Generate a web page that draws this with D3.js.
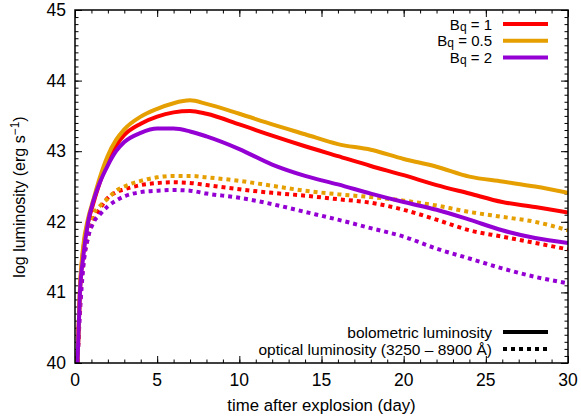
<!DOCTYPE html>
<html>
<head>
<meta charset="utf-8">
<script src="https://cdn.jsdelivr.net/npm/d3@7"></script>
<style>
  body { margin: 0; background: #fff; }
  text { font-family: "Liberation Sans", Arial, Helvetica, sans-serif; fill: #000; }
</style>
</head>
<body>
<div id="chart"></div>
<script>
// time after explosion (day)
const times = [0.15, 0.3, 0.5, 0.8, 1.1, 1.5, 2, 2.5, 3, 4, 5, 6, 7, 8, 10, 12, 14, 16, 18, 20, 22, 24, 26, 28, 30];

// bolometric luminosity (log)
const bolBq1   = [40, 41.02, 41.6, 42.0, 42.25, 42.55, 42.87, 43.08, 43.23, 43.39, 43.49, 43.55, 43.57, 43.53, 43.38, 43.22, 43.07, 42.93, 42.79, 42.66, 42.52, 42.40, 42.28, 42.21, 42.13];
const bolBq05  = [40, 41.05, 41.65, 42.05, 42.3, 42.62, 42.94, 43.16, 43.31, 43.49, 43.60, 43.68, 43.72, 43.67, 43.53, 43.38, 43.24, 43.10, 43.02, 42.89, 42.78, 42.64, 42.57, 42.50, 42.41];
const bolBq2   = [40, 40.99, 41.5, 42.0, 42.28, 42.55, 42.8, 43.0, 43.13, 43.26, 43.32, 43.32, 43.28, 43.21, 43.03, 42.81, 42.65, 42.53, 42.40, 42.28, 42.17, 42.03, 41.88, 41.77, 41.70];

// optical luminosity 3250 - 8900 A (log)
const optBq1   = [40, 40.85, 41.4, 41.8, 42.02, 42.18, 42.34, 42.42, 42.46, 42.52, 42.55, 42.56, 42.55, 42.52, 42.46, 42.41, 42.37, 42.32, 42.27, 42.17, 42.03, 41.88, 41.79, 41.70, 41.61];
const optBq05  = [40, 40.9, 41.45, 41.85, 42.1, 42.22, 42.33, 42.44, 42.5, 42.58, 42.63, 42.65, 42.65, 42.63, 42.58, 42.51, 42.44, 42.39, 42.35, 42.30, 42.23, 42.14, 42.07, 42.0, 41.88];
const optBq2   = [40, 40.7, 41.35, 41.78, 41.98, 42.1, 42.22, 42.3, 42.36, 42.42, 42.44, 42.45, 42.44, 42.40, 42.34, 42.25, 42.14, 42.03, 41.91, 41.79, 41.62, 41.48, 41.34, 41.22, 41.13];

const xTicks = [0, 5, 10, 15, 20, 25, 30];
const yTicks = [40, 41, 42, 43, 44, 45];

const series = [
  { sub: '1',   color: '#ff0000', bol: bolBq1,  opt: optBq1 },
  { sub: '0.5', color: '#e69f00', bol: bolBq05, opt: optBq05 },
  { sub: '2',   color: '#9400d3', bol: bolBq2,  opt: optBq2 }
];

const W = 581, H = 420;
const margin = { top: 10, right: 13, bottom: 57, left: 75 };
const width = W - margin.left - margin.right;
const height = H - margin.top - margin.bottom;

const x = d3.scaleLinear().domain([0, 30]).range([0, width]);
const y = d3.scaleLinear().domain([40, 45]).range([height, 0]);

const svg = d3.select('#chart').append('svg')
  .attr('width', W)
  .attr('height', H);

const g = svg.append('g')
  .attr('transform', `translate(${margin.left},${margin.top})`);

g.append('clipPath').attr('id', 'plot-clip')
  .append('rect').attr('width', width).attr('height', height);

// minor + major ticks, inward on all four sides
const xMinor = d3.range(0, 31, 1);
const yMinor = d3.range(40, 45.001, 0.1);

function tickAxis(axisFn, scale, values, size) {
  return axisFn(scale).tickValues(values).tickSize(size).tickSizeOuter(0).tickFormat('');
}

g.append('g').attr('transform', `translate(0,${height})`)
  .call(tickAxis(d3.axisBottom, x, xMinor, -3.5));
g.append('g').call(tickAxis(d3.axisTop, x, xMinor, -3.5));
g.append('g').call(tickAxis(d3.axisLeft, y, yMinor, -3.5));
g.append('g').attr('transform', `translate(${width},0)`)
  .call(tickAxis(d3.axisRight, y, yMinor, -3.5));

g.append('g').attr('transform', `translate(0,${height})`)
  .call(tickAxis(d3.axisBottom, x, xTicks, -7));
g.append('g').call(tickAxis(d3.axisTop, x, xTicks, -7));
g.append('g').call(tickAxis(d3.axisLeft, y, yTicks, -7));
g.append('g').attr('transform', `translate(${width},0)`)
  .call(tickAxis(d3.axisRight, y, yTicks, -7));

g.selectAll('.domain').remove();
g.selectAll('.tick line').attr('stroke', '#000').attr('stroke-width', 1);

// tick labels
g.selectAll('.xlab').data(xTicks).enter().append('text')
  .attr('x', d => x(d))
  .attr('y', height + 23)
  .attr('text-anchor', 'middle')
  .style('font-size', '17.5px')
  .text(d => d);

g.selectAll('.ylab').data(yTicks).enter().append('text')
  .attr('x', -9)
  .attr('y', d => y(d) + 6)
  .attr('text-anchor', 'end')
  .style('font-size', '17.5px')
  .text(d => d);

// curves
const line = d3.line()
  .x((d, i) => x(times[i]))
  .y(d => y(d))
  .curve(d3.curveMonotoneX);

const plot = g.append('g').attr('clip-path', 'url(#plot-clip)');

series.forEach(s => {
  plot.append('path')
    .attr('d', line(s.opt))
    .attr('fill', 'none')
    .attr('stroke', s.color)
    .attr('stroke-width', 4)
    .attr('stroke-dasharray', '4,4');
});
series.forEach(s => {
  plot.append('path')
    .attr('d', line(s.bol))
    .attr('fill', 'none')
    .attr('stroke', s.color)
    .attr('stroke-width', 4);
});

// frame
g.append('rect')
  .attr('width', width)
  .attr('height', height)
  .attr('fill', 'none')
  .attr('stroke', '#000')
  .attr('stroke-width', 1.5);

// legend, top right
const legX = 417, legLine0 = 428, legLine1 = 473;
series.forEach((s, i) => {
  const yy = 14 + i * 16.7;
  const t = g.append('text')
    .attr('x', legX)
    .attr('y', yy + 5.5)
    .attr('text-anchor', 'end')
    .style('font-size', '15px');
  t.append('tspan').text('B');
  t.append('tspan').attr('dy', 1).style('font-size', '12px').text('q');
  t.append('tspan').attr('dy', -1).text(' = ' + s.sub);
  g.append('line')
    .attr('x1', legLine0).attr('x2', legLine1)
    .attr('y1', yy).attr('y2', yy)
    .attr('stroke', s.color)
    .attr('stroke-width', 4);
});

// legend, bottom right (line styles)
const styles = [
  { label: 'bolometric luminosity', dash: null, yy: 322 },
  { label: 'optical luminosity (3250 \u2013 8900 \u00c5)', dash: '4,4', yy: 339 }
];
styles.forEach(st => {
  g.append('text')
    .attr('x', legX)
    .attr('y', st.yy + 5.5)
    .attr('text-anchor', 'end')
    .style('font-size', '15.5px')
    .text(st.label);
  g.append('line')
    .attr('x1', legLine0).attr('x2', legLine1)
    .attr('y1', st.yy).attr('y2', st.yy)
    .attr('stroke', '#000')
    .attr('stroke-width', 4)
    .attr('stroke-dasharray', st.dash);
});

// axis titles
svg.append('text')
  .attr('x', margin.left + width / 2)
  .attr('y', 411)
  .attr('text-anchor', 'middle')
  .style('font-size', '16.8px')
  .text('time after explosion (day)');

const yl = svg.append('text')
  .attr('transform', 'translate(25,197) rotate(-90)')
  .attr('text-anchor', 'middle')
  .style('font-size', '16px');
yl.append('tspan').text('log luminosity (erg s');
yl.append('tspan').attr('dy', -6).style('font-size', '12px').text('\u22121');
yl.append('tspan').attr('dy', 6).text(')');
</script>
</body>
</html>
